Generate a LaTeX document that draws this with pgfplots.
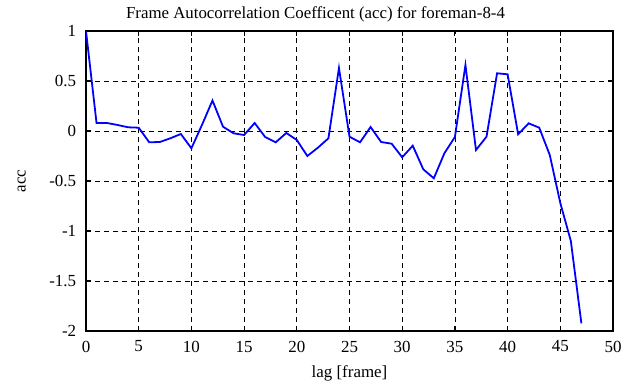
\documentclass[border=0pt]{standalone}
\usepackage{fontspec}
\setmainfont{Liberation Serif}
\usepackage{pgfplots}
\pgfplotsset{compat=1.18}
\begin{document}
\fontsize{17}{20}\selectfont
\begin{tikzpicture}
\begin{axis}[
  scale only axis,
  width=527bp, height=300bp,
  xmin=0, xmax=50, ymin=-2, ymax=1,
  xtick={0,5,...,50},
  ytick={-2,-1.5,-1,-0.5,0,0.5,1},
  yticklabels={-2,-1.5,-1,-0.5,0,0.5,1},
  xticklabels={0,5,10,15,20,25,30,35,40,45,50},
  tick align=inside,
  tick pos=both,
  major tick length=5bp,
  grid=major,
  major grid style={black, dashed, line width=0.7pt, dash pattern=on 5bp off 4bp},
  axis line style={black, line width=1.3pt},
  tick style={black, line width=1.1pt},
  title={Frame Autocorrelation Coefficent (acc) for foreman-8-4},
  title style={yshift=-2.5bp, xshift=-34bp, font=\fontsize{16.9}{20}\selectfont},
  xlabel={lag [frame]},
  ylabel={acc},
  xlabel style={yshift=-2bp},
  ylabel style={yshift=12bp},
  xticklabel style={yshift=-4bp},
  yticklabel style={xshift=-4bp},
  ticklabel style={font=\fontsize{17}{20}\selectfont},
  label style={font=\fontsize{17}{20}\selectfont},
  /pgf/number format/assume math mode=true,
]
\addplot[blue, line width=1.8pt, mark=none] coordinates {
(0,1.0) (1,0.08) (2,0.08) (3,0.06) (4,0.037) (5,0.033)
(6,-0.113) (7,-0.11) (8,-0.073) (9,-0.03) (10,-0.173)
(11,0.06) (12,0.305) (13,0.043) (14,-0.023) (15,-0.04)
(16,0.08) (17,-0.06) (18,-0.113) (19,-0.02) (20,-0.09)
(21,-0.25) (22,-0.167) (23,-0.073) (24,0.63) (25,-0.057)
(26,-0.113) (27,0.04) (28,-0.11) (29,-0.127) (30,-0.263)
(31,-0.147) (32,-0.383) (33,-0.473) (34,-0.223) (35,-0.06)
(36,0.66) (37,-0.19) (38,-0.057) (39,0.577) (40,0.567)
(41,-0.033) (42,0.077) (43,0.033) (44,-0.24) (45,-0.72)
(46,-1.1) (47,-1.923)
};
\end{axis}
\pgfresetboundingbox
\path[use as bounding box] ([xshift=-86bp,yshift=-56bp]current axis.south west) rectangle ([xshift=17bp,yshift=31bp]current axis.north east);
\end{tikzpicture}
\end{document}
